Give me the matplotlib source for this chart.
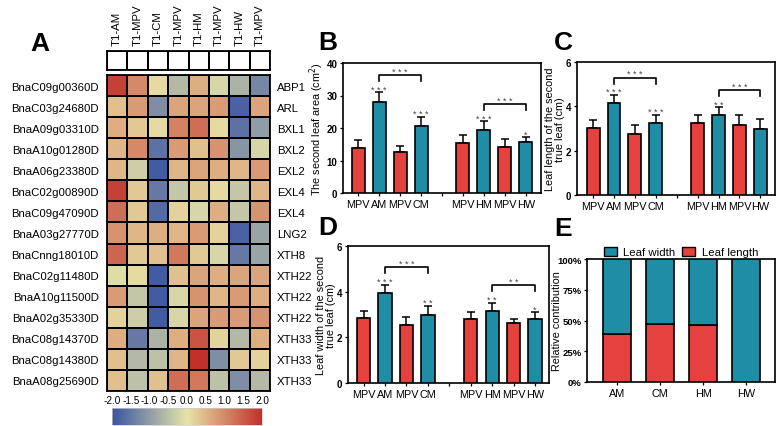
import numpy as np
import matplotlib
matplotlib.use("Agg")
import matplotlib.pyplot as plt
from matplotlib.colors import LinearSegmentedColormap
from matplotlib.patches import Patch

plt.rcParams['font.family'] = ['Liberation Sans', 'DejaVu Sans']

# ---------------- data ----------------
samples = ["T1-AM", "T1-MPV", "T1-CM", "T1-MPV", "T1-HM", "T1-MPV", "T1-HW", "T1-MPV"]
gene_ids = ["BnaC09g00360D", "BnaC03g24680D", "BnaA09g03310D", "BnaA10g01280D",
            "BnaA06g23380D", "BnaC02g00890D", "BnaC09g47090D", "BnaA03g27770D",
            "BnaCnng18010D", "BnaC02g11480D", "BnaA10g11500D", "BnaA02g35330D",
            "BnaC08g14370D", "BnaC08g14380D", "BnaA08g25690D"]
gene_names = ["ABP1", "ARL", "BXL1", "BXL2", "EXL2", "EXL4", "EXL4", "LNG2",
              "XTH8", "XTH22", "XTH22", "XTH22", "XTH33", "XTH33", "XTH33"]
heat = [
    [1.8, 1.0, 0.1, -0.6, 0.6, -0.2, -0.7, -1.3],
    [0.4, 0.8, -1.2, 0.7, 0.7, 0.8, -1.8, 0.7],
    [0.6, 0.3, 0.1, 1.1, 1.3, 0.1, -1.6, -1.0],
    [0.5, 1.0, -1.6, 0.8, 0.4, 0.9, -1.1, -0.2],
    [0.5, -0.3, -1.9, 0.5, 0.7, 0.6, 0.5, 0.8],
    [1.8, 0.3, -1.5, -0.4, 0.3, 0.1, -0.4, 0.5],
    [1.3, 0.3, -1.7, 0.2, -0.2, 0.6, -0.4, 0.9],
    [0.9, 0.5, 0.6, 0.5, 0.8, 0.2, -1.8, -0.9],
    [1.4, 0.3, 0.4, 1.2, 0.3, -0.2, -1.5, -0.9],
    [-0.1, 0.1, -1.9, 0.4, 0.7, 0.6, 0.7, 0.7],
    [0.8, -0.4, -1.9, -0.2, 0.9, 0.5, 0.8, 0.6],
    [0.2, -0.3, -1.9, -0.2, 0.7, 0.8, 0.8, 0.9],
    [0.6, -1.5, -0.7, 0.6, 1.6, 0.2, -0.6, 0.6],
    [0.4, -0.6, -0.5, 0.5, 2.0, -1.2, 0.3, 0.2],
    [0.4, -0.5, 0.4, 1.3, 1.2, -0.5, -1.2, -0.6],
]
cbar_ticks = [-2.0, -1.5, -1.0, -0.5, 0.0, 0.5, 1.0, 1.5, 2.0]

bar_labels = ["MPV", "AM", "MPV", "CM", "MPV", "HM", "MPV", "HW"]
bar_pos = [0, 1, 2, 3, 5, 6, 7, 8]
bar_kind = ["ctrl", "treat", "ctrl", "treat", "ctrl", "treat", "ctrl", "treat"]

area_mean = [13.8, 28.0, 12.5, 20.6, 15.5, 19.5, 14.1, 15.8]
area_err = [2.6, 3.0, 2.0, 2.9, 2.2, 2.6, 2.6, 1.4]
area_stars = ["", "***", "", "***", "", "***", "", "*"]

length_mean = [3.03, 4.16, 2.73, 3.27, 3.23, 3.62, 3.15, 2.96]
length_err = [0.36, 0.36, 0.42, 0.35, 0.40, 0.34, 0.44, 0.45]
length_stars = ["", "***", "", "***", "", "**", "", ""]

width_mean = [2.85, 3.96, 2.54, 2.97, 2.79, 3.17, 2.63, 2.81]
width_err = [0.32, 0.35, 0.34, 0.41, 0.31, 0.35, 0.19, 0.29]
width_stars = ["", "***", "", "**", "", "**", "", "*"]

area_brackets = [(1, 3, "***"), (5, 7, "***")]
length_brackets = [(1, 3, "***"), (5, 7, "***")]
width_brackets = [(1, 3, "***"), (5, 7, "**")]

contrib_groups = ["AM", "CM", "HM", "HW"]
leaf_length_pct = [39, 47, 46, 0]
leaf_width_pct = [61, 53, 54, 100]

# ---------------- style ----------------
RED = "#E5413F"
TEAL = "#1F8DA6"
STAR = "#444444"
W, H = 777, 427
fig = plt.figure(figsize=(W / 100, H / 100), dpi=100)


def rect(x0, y0, x1, y1):
    return [x0 / W, 1 - y1 / H, (x1 - x0) / W, (y1 - y0) / H]


def spaced(s):
    return " ".join(s)


cmap = LinearSegmentedColormap.from_list(
    "hm", ["#3A55A3", "#E7E4A8", "#C2302B"])

# ---------------- Panel A ----------------
axh = fig.add_axes(rect(107, 76, 270, 392))
data = np.array(heat)
nr, nc = data.shape
axh.pcolormesh(np.arange(nc + 1), np.arange(nr + 1), data, cmap=cmap,
               vmin=-2, vmax=2, edgecolors="black", linewidth=1.3)
axh.set_xlim(0, nc)
axh.set_ylim(nr, 0)
axh.set_xticks([])
axh.set_yticks(np.arange(nr) + 0.5)
axh.set_yticklabels(gene_ids, fontsize=8.2)
axh.tick_params(axis="y", length=0, pad=6)
for s in axh.spines.values():
    s.set_linewidth(1.3)
axr = axh.twinx()
axr.set_ylim(nr, 0)
axr.set_yticks(np.arange(nr) + 0.5)
axr.set_yticklabels(gene_names, fontsize=8.2)
axr.tick_params(axis="y", length=0, pad=5)
for s in axr.spines.values():
    s.set_visible(False)

axb = fig.add_axes(rect(107, 52, 270, 71))
axb.pcolormesh(np.arange(nc + 1), [0, 1], np.zeros((1, nc)),
               cmap=LinearSegmentedColormap.from_list("w", ["white", "white"]),
               edgecolors="black", linewidth=1.3)
axb.set_xlim(0, nc)
axb.set_ylim(0, 1)
axb.set_yticks([])
axb.set_xticks(np.arange(nc) + 0.5)
axb.set_xticklabels(samples, rotation=90, fontsize=8.2)
axb.xaxis.tick_top()
axb.tick_params(axis="x", length=0, pad=4)
for s in axb.spines.values():
    s.set_linewidth(1.3)

axc = fig.add_axes(rect(112, 409, 262, 426))
grad = np.linspace(-2, 2, 256).reshape(1, -1)
axc.imshow(grad, aspect="auto", cmap=cmap, vmin=-2, vmax=2,
           extent=[-2, 2, 0, 1])
axc.set_yticks([])
axc.set_xticks(cbar_ticks)
axc.set_xticklabels([f"{t:.1f}" for t in cbar_ticks], fontsize=7.2)
axc.xaxis.tick_top()
axc.tick_params(axis="x", length=0, pad=2)
for s in axc.spines.values():
    s.set_linewidth(0.5)
    s.set_color("#cccccc")

fig.text(40 / W, 1 - 44 / H, "A", fontsize=19, fontweight="bold",
         ha="center", va="center")


# ---------------- bar panels ----------------
def bar_panel(box, means, errs, stars, brackets, ymax, yticks, ylabel, xlim,
              label_x):
    ax = fig.add_axes(rect(*box))
    colors = [RED if k == "ctrl" else TEAL for k in bar_kind]
    ax.bar(bar_pos, means, width=0.62, color=colors, edgecolor="black",
           linewidth=1.2, zorder=3)
    ax.errorbar(bar_pos, means, yerr=[np.zeros(len(means)), errs], fmt="none",
                ecolor="black", elinewidth=1.1, capsize=2.8, capthick=1.1,
                zorder=2)
    caps = np.array(means) + np.array(errs)
    for p, c, s in zip(bar_pos, caps, stars):
        if s:
            ax.text(p, c + 0.005 * ymax, spaced(s), ha="center", va="baseline",
                    fontsize=6.5, color=STAR)
    for i, j, s in brackets:
        yb = max(caps[i], caps[j]) + 0.13 * ymax
        tip = 0.045 * ymax
        xi, xj = bar_pos[i], bar_pos[j]
        ax.plot([xi, xi, xj, xj], [yb - tip, yb, yb, yb - tip], color="black",
                lw=1.2, zorder=4)
        ax.text((xi + xj) / 2, yb + 0.008 * ymax, spaced(s), ha="center",
                va="baseline", fontsize=6.5, color=STAR)
    ax.set_xlim(*xlim)
    ax.set_ylim(0, ymax)
    ax.set_xticks(list(bar_pos) + [4])
    ax.set_xticklabels(bar_labels + [""], fontsize=7.8)
    ax.set_yticks(yticks)
    ax.set_yticklabels([str(t) for t in yticks], fontsize=7, fontweight="bold")
    ax.tick_params(axis="both", length=2.5, width=0.9, pad=1.5, direction="out")
    ax.set_ylabel(ylabel, fontsize=7.8, linespacing=1.0)
    ax.yaxis.set_label_coords(label_x, 0.5)
    for s in ax.spines.values():
        s.set_linewidth(1.2)
    return ax


bar_panel((343, 64, 541, 194), area_mean, area_err, area_stars, area_brackets,
          40, [0, 10, 20, 30, 40], "The second leaf area (cm$^2$)",
          (-0.72, 8.72), -0.084)
bar_panel((577, 63, 775, 196), length_mean, length_err, length_stars,
          length_brackets, 6, [0, 2, 4, 6],
          "Leaf length of the second\ntrue leaf (cm)", (-0.77, 8.7), -0.062)
bar_panel((348, 247, 549, 384), width_mean, width_err, width_stars,
          width_brackets, 6, [0, 2, 4, 6],
          "Leaf width of the second\ntrue leaf (cm)", (-0.73, 8.65), -0.062)

fig.text(328 / W, 1 - 43 / H, "B", fontsize=19, fontweight="bold",
         ha="center", va="center")
fig.text(563 / W, 1 - 43 / H, "C", fontsize=19, fontweight="bold",
         ha="center", va="center")
fig.text(328 / W, 1 - 228 / H, "D", fontsize=19, fontweight="bold",
         ha="center", va="center")
fig.text(563 / W, 1 - 229 / H, "E", fontsize=19, fontweight="bold",
         ha="center", va="center")

# ---------------- Panel E ----------------
axe = fig.add_axes(rect(587, 260, 775, 383))
xe = np.arange(len(contrib_groups))
axe.bar(xe, leaf_length_pct, width=0.64, color=RED, edgecolor="black",
        linewidth=1.2, zorder=3)
axe.bar(xe, leaf_width_pct, bottom=leaf_length_pct, width=0.64, color=TEAL,
        edgecolor="black", linewidth=1.2, zorder=3)
axe.set_xlim(-0.7, 3.67)
axe.set_ylim(0, 100)
axe.set_xticks(xe)
axe.set_xticklabels(contrib_groups, fontsize=7.8)
axe.set_yticks([0, 25, 50, 75, 100])
axe.set_yticklabels(["0%", "25%", "50%", "75%", "100%"], fontsize=6.8,
                    fontweight="bold")
axe.tick_params(axis="both", length=2.5, width=0.9, pad=1.5)
axe.set_ylabel("Relative contribution", fontsize=7.8)
axe.yaxis.set_label_coords(-0.135, 0.5)
for s in axe.spines.values():
    s.set_linewidth(1.2)
handles = [Patch(facecolor=TEAL, edgecolor="black", linewidth=1.0, label="Leaf width"),
           Patch(facecolor=RED, edgecolor="black", linewidth=1.0, label="Leaf length")]
axe.legend(handles=handles, ncol=2, frameon=False, fontsize=8.2,
           loc="lower center", bbox_to_anchor=(0.5, 1.015), handlelength=1.1,
           handleheight=0.8, handletextpad=0.6, columnspacing=0.6,
           borderpad=0.0, borderaxespad=0.0)

fig.savefig("out.png", dpi=100)
